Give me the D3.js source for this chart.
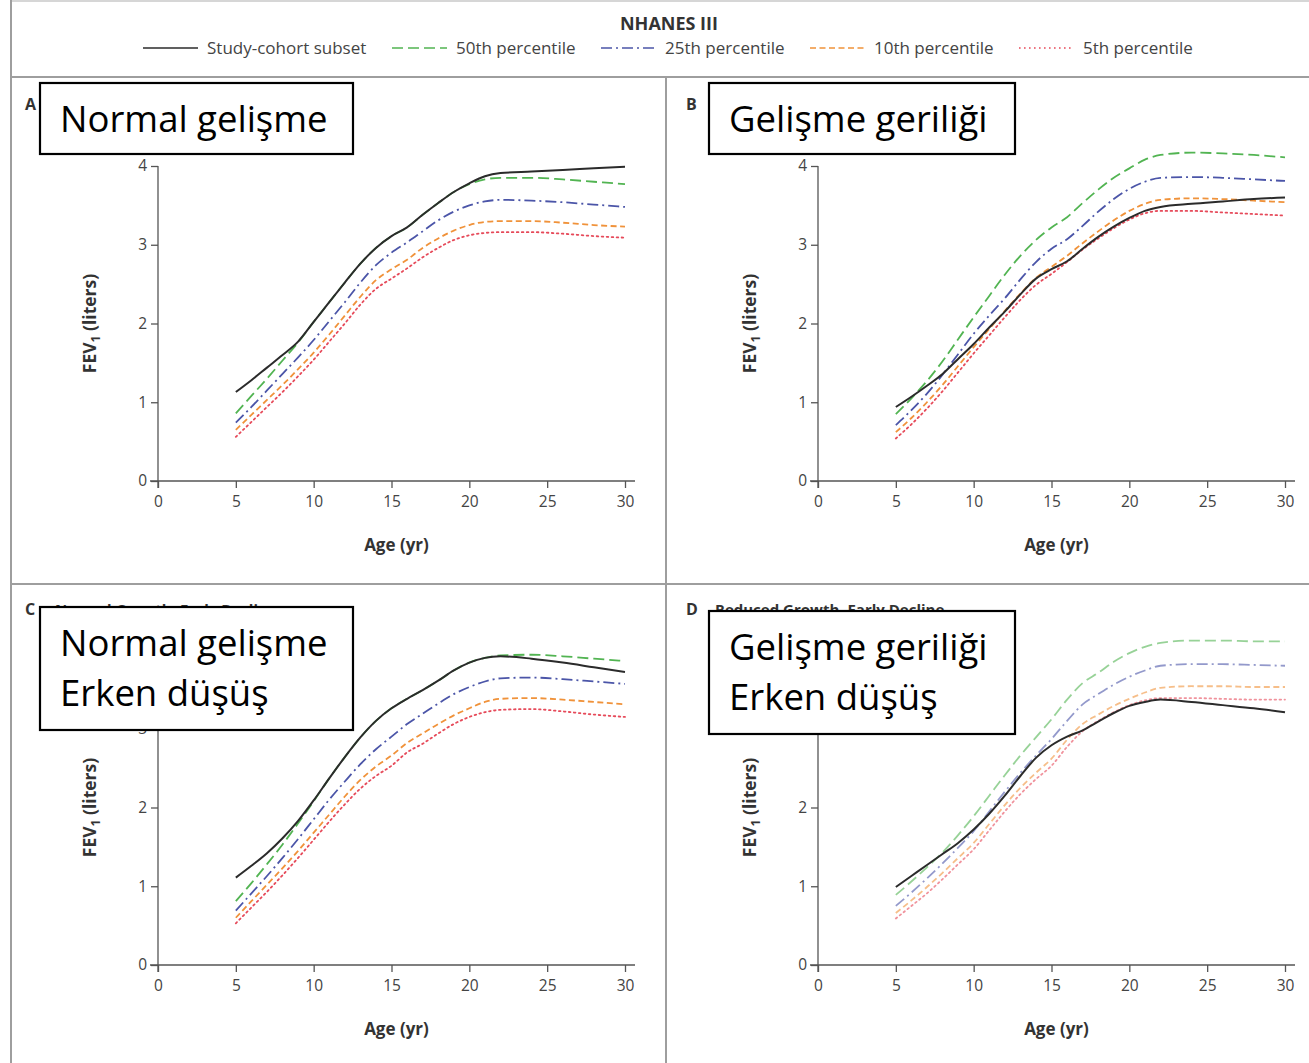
<!DOCTYPE html>
<html><head><meta charset="utf-8">
<script src="https://cdn.jsdelivr.net/npm/d3@7"></script>
<style>
html,body{margin:0;padding:0;background:#fff;}
svg{display:block;}
</style></head>
<body>
<svg id="chart" width="1309" height="1063"></svg>
<script>
// ---------------- DATA ----------------
const ages = [5, 6, 7, 8, 9, 10, 11, 12, 13, 14, 15, 16, 17, 18, 19, 20, 21, 22, 24, 26, 28, 30];
const xTicks = [0, 5, 10, 15, 20, 25, 30];
const yTicks = [0, 1, 2, 3, 4];
const seriesNames = ["Study-cohort subset", "50th percentile", "25th percentile", "10th percentile", "5th percentile"];
const legendTitle = "NHANES III";
const panelLetters = ["A", "B", "C", "D"];
const panelTitles = ["", "", "Normal Growth, Early Decline", "Reduced Growth, Early Decline"];
const boxTexts = [["Normal gelişme"], ["Gelişme geriliği"], ["Normal gelişme", "Erken düşüş"], ["Gelişme geriliği", "Erken düşüş"]];

// Panel A – Normal growth
const cohortA = [1.13, 1.28, 1.44, 1.60, 1.77, 2.02, 2.27, 2.52, 2.76, 2.96, 3.11, 3.22, 3.38, 3.53, 3.67, 3.78, 3.87, 3.91, 3.93, 3.95, 3.97, 3.99];
const p50A    = [0.86, 1.08, 1.30, 1.53, 1.76, 2.02, 2.27, 2.52, 2.76, 2.96, 3.11, 3.22, 3.38, 3.53, 3.67, 3.77, 3.83, 3.85, 3.85, 3.83, 3.80, 3.77];
const p25A    = [0.74, 0.94, 1.15, 1.36, 1.57, 1.79, 2.03, 2.27, 2.52, 2.74, 2.90, 3.03, 3.17, 3.31, 3.42, 3.50, 3.55, 3.57, 3.56, 3.54, 3.51, 3.48];
const p10A    = [0.65, 0.84, 1.03, 1.22, 1.42, 1.63, 1.86, 2.10, 2.34, 2.55, 2.69, 2.81, 2.96, 3.08, 3.18, 3.25, 3.29, 3.30, 3.30, 3.28, 3.25, 3.23];
const p5A     = [0.56, 0.75, 0.94, 1.13, 1.33, 1.54, 1.77, 2.00, 2.24, 2.44, 2.57, 2.70, 2.84, 2.96, 3.06, 3.12, 3.15, 3.16, 3.16, 3.14, 3.11, 3.09];
// Panel B – Reduced growth
const cohortB = [0.94, 1.07, 1.21, 1.36, 1.55, 1.74, 1.95, 2.15, 2.37, 2.57, 2.69, 2.79, 2.95, 3.10, 3.23, 3.34, 3.43, 3.48, 3.52, 3.55, 3.58, 3.60];
const p50B    = [0.85, 1.05, 1.27, 1.52, 1.80, 2.08, 2.35, 2.62, 2.86, 3.06, 3.22, 3.35, 3.53, 3.70, 3.85, 3.97, 4.08, 4.14, 4.17, 4.16, 4.14, 4.11];
const p25B    = [0.71, 0.90, 1.11, 1.35, 1.61, 1.87, 2.10, 2.32, 2.56, 2.78, 2.95, 3.07, 3.24, 3.42, 3.58, 3.71, 3.80, 3.85, 3.86, 3.85, 3.83, 3.81];
const p10B    = [0.62, 0.80, 1.00, 1.22, 1.46, 1.70, 1.93, 2.16, 2.38, 2.58, 2.72, 2.86, 3.02, 3.17, 3.31, 3.43, 3.52, 3.57, 3.59, 3.58, 3.56, 3.54];
const p5B     = [0.54, 0.72, 0.92, 1.14, 1.38, 1.62, 1.85, 2.08, 2.30, 2.49, 2.63, 2.78, 2.94, 3.08, 3.21, 3.32, 3.40, 3.43, 3.43, 3.41, 3.39, 3.37];
// Panel C – Normal growth, early decline
const cohortC = [1.11, 1.26, 1.42, 1.61, 1.83, 2.09, 2.37, 2.64, 2.89, 3.10, 3.26, 3.38, 3.49, 3.61, 3.74, 3.84, 3.90, 3.92, 3.89, 3.84, 3.78, 3.72];
const p50C    = [0.81, 1.04, 1.28, 1.53, 1.80, 2.08, 2.37, 2.64, 2.89, 3.10, 3.26, 3.38, 3.49, 3.61, 3.74, 3.84, 3.90, 3.93, 3.94, 3.92, 3.89, 3.86];
const p25C    = [0.69, 0.91, 1.13, 1.36, 1.60, 1.85, 2.10, 2.33, 2.55, 2.74, 2.90, 3.06, 3.19, 3.32, 3.44, 3.53, 3.60, 3.64, 3.65, 3.63, 3.60, 3.57];
const p10C    = [0.60, 0.81, 1.02, 1.23, 1.45, 1.68, 1.91, 2.14, 2.35, 2.52, 2.66, 2.82, 2.94, 3.06, 3.17, 3.26, 3.34, 3.38, 3.39, 3.37, 3.34, 3.31];
const p5C     = [0.53, 0.73, 0.93, 1.14, 1.36, 1.59, 1.82, 2.04, 2.24, 2.40, 2.53, 2.70, 2.81, 2.94, 3.06, 3.15, 3.21, 3.24, 3.25, 3.22, 3.18, 3.15];
// Panel D – Reduced growth, early decline
const cohortD = [0.99, 1.13, 1.27, 1.41, 1.55, 1.72, 1.92, 2.15, 2.40, 2.63, 2.79, 2.90, 2.98, 3.09, 3.20, 3.29, 3.34, 3.37, 3.34, 3.30, 3.26, 3.21];
const p50D    = [0.89, 1.06, 1.24, 1.43, 1.65, 1.89, 2.15, 2.41, 2.66, 2.89, 3.12, 3.37, 3.58, 3.71, 3.85, 3.96, 4.04, 4.09, 4.12, 4.12, 4.11, 4.11];
const p25D    = [0.75, 0.92, 1.10, 1.29, 1.49, 1.70, 1.95, 2.20, 2.44, 2.66, 2.87, 3.10, 3.31, 3.44, 3.56, 3.66, 3.74, 3.80, 3.82, 3.82, 3.81, 3.80];
const p10D    = [0.66, 0.82, 0.99, 1.17, 1.36, 1.55, 1.79, 2.03, 2.25, 2.44, 2.62, 2.86, 3.06, 3.18, 3.29, 3.38, 3.46, 3.52, 3.54, 3.54, 3.53, 3.53];
const p5D     = [0.59, 0.75, 0.91, 1.09, 1.28, 1.47, 1.71, 1.95, 2.17, 2.36, 2.53, 2.77, 2.97, 3.10, 3.21, 3.30, 3.36, 3.39, 3.39, 3.38, 3.37, 3.37];

// ---------------- STYLE / LAYOUT ----------------
const styles = [
  {color: "#2b2b2b", dash: null, width: 2},
  {color: "#52b452", dash: "11,5", width: 1.8},
  {color: "#4b55a8", dash: "11,4,2,4", width: 1.8},
  {color: "#f0923a", dash: "6,3.5", width: 1.8},
  {color: "#e64a5a", dash: "1.6,3.4", width: 1.8}
];
const panelData = [
  [cohortA, p50A, p25A, p10A, p5A],
  [cohortB, p50B, p25B, p10B, p5B],
  [cohortC, p50C, p25C, p10C, p5C],
  [cohortD, p50D, p25D, p10D, p5D]
];
const layout = [
  {ax: 158, xEnd: 625, y0: 481, y4: 166, letter: [25, 110], title: [55, 613], box: [40, 83, 313, 71], fade: 1},
  {ax: 818, xEnd: 1285, y0: 481, y4: 166, letter: [686, 110], title: [715, 613], box: [709, 83, 306, 71], fade: 1},
  {ax: 158, xEnd: 625, y0: 965, y4: 650, letter: [25, 615], title: [55, 615], box: [40, 607, 313, 123], fade: 1},
  {ax: 818, xEnd: 1285, y0: 965, y4: 650, letter: [686, 615], title: [715, 615], box: [709, 611, 306, 123], fade: 0.6}
];
const font = "'Open Sans', 'Noto Sans', sans-serif";

const svg = d3.select("#chart");

// ---------- frame ----------
const frame = svg.append("g").attr("stroke", "#9e9e9e").attr("stroke-width", 2);
frame.append("line").attr("x1", 11).attr("x2", 1309).attr("y1", 1).attr("y2", 1).attr("stroke", "#d6d6d6");
frame.append("line").attr("x1", 11).attr("x2", 11).attr("y1", 0).attr("y2", 1063);
frame.append("line").attr("x1", 11).attr("x2", 1309).attr("y1", 77).attr("y2", 77);
frame.append("line").attr("x1", 11).attr("x2", 1309).attr("y1", 584).attr("y2", 584);
frame.append("line").attr("x1", 666).attr("x2", 666).attr("y1", 77).attr("y2", 1063);

// ---------- legend ----------
svg.append("text").attr("x", 669).attr("y", 30).attr("text-anchor", "middle")
  .attr("font-family", font).attr("font-weight", "bold").attr("font-size", 18).attr("fill", "#333")
  .text(legendTitle);
const legendX = [143, 392, 601, 810, 1019];
seriesNames.forEach((name, i) => {
  const g = svg.append("g");
  g.append("line").attr("x1", legendX[i]).attr("x2", legendX[i] + 55).attr("y1", 48).attr("y2", 48)
    .attr("stroke", styles[i].color).attr("stroke-width", 1.6)
    .attr("stroke-dasharray", styles[i].dash);
  g.append("text").attr("x", legendX[i] + 64).attr("y", 54)
    .attr("font-family", font).attr("font-size", 17).attr("fill", "#444").text(name);
});

// ---------- panels ----------
layout.forEach((L, pi) => {
  const x = d3.scaleLinear().domain([0, 30]).range([L.ax, L.xEnd]);
  const y = d3.scaleLinear().domain([0, 4]).range([L.y0, L.y4]);
  const g = svg.append("g");
  const [bx, by, bw, bh] = L.box;

  // panel letter & title
  g.append("text").attr("x", L.letter[0]).attr("y", L.letter[1])
    .attr("font-family", font).attr("font-weight", "bold").attr("font-size", 16).attr("fill", "#333")
    .text(panelLetters[pi]);
  if (panelTitles[pi]) {
    g.append("text").attr("x", L.title[0]).attr("y", L.title[1])
      .attr("font-family", font).attr("font-weight", "bold").attr("font-size", 15).attr("fill", "#333")
      .text(panelTitles[pi]);
  }

  // axes
  const xAxis = g.append("g").attr("transform", `translate(0,${L.y0})`)
    .call(d3.axisBottom(x).tickValues(xTicks).tickSize(7).tickPadding(8).tickFormat(d3.format("d")));
  // tick labels that would sit entirely under the annotation box are not drawn
  const hidden = v => y(v) > by && y(v) + 5 <= by + bh && L.ax - 20 > bx;
  const yAxis = g.append("g").attr("transform", `translate(${L.ax},0)`)
    .call(d3.axisLeft(y).tickValues(yTicks).tickSize(7).tickPadding(4)
      .tickFormat(v => hidden(v) ? "" : d3.format("d")(v)));
  [xAxis, yAxis].forEach(a => {
    a.select(".domain").remove();
    a.selectAll("line").attr("stroke", "#555").attr("stroke-width", 1.3);
    a.selectAll("text").attr("font-family", font).attr("font-size", 15.5).attr("fill", "#444");
  });
  g.append("line").attr("x1", x(0) - 8).attr("x2", x(30) + 10).attr("y1", L.y0).attr("y2", L.y0)
    .attr("stroke", "#555").attr("stroke-width", 1.3);
  g.append("line").attr("x1", L.ax).attr("x2", L.ax).attr("y1", y(4)).attr("y2", L.y0 + 7)
    .attr("stroke", "#555").attr("stroke-width", 1.3);

  // axis titles
  g.append("text").attr("x", (x(0) + x(30)) / 2 + 5).attr("y", L.y0 + 70).attr("text-anchor", "middle")
    .attr("font-family", font).attr("font-weight", "bold").attr("font-size", 17).attr("fill", "#333")
    .text("Age (yr)");
  const yl = g.append("text").attr("transform", `translate(${L.ax - 62},${(y(0) + y(4)) / 2}) rotate(-90)`)
    .attr("text-anchor", "middle").attr("font-family", font).attr("font-weight", "bold")
    .attr("font-size", 17.5).attr("fill", "#333");
  yl.append("tspan").text("FEV");
  yl.append("tspan").attr("font-size", 12).attr("dy", 4).text("1");
  yl.append("tspan").attr("dy", -4).text(" (liters)");

  // lines (percentiles first, cohort on top)
  const line = d3.line().x((d, i) => x(ages[i])).y(d => y(d)).curve(d3.curveMonotoneX);
  [4, 3, 2, 1, 0].forEach(si => {
    g.append("path").datum(panelData[pi][si]).attr("d", line)
      .attr("fill", "none").attr("stroke", styles[si].color)
      .attr("stroke-width", styles[si].width)
      .attr("stroke-dasharray", styles[si].dash)
      .attr("stroke-opacity", si === 0 ? 1 : L.fade)
      .attr("stroke-linecap", si === 4 ? "round" : "butt");
  });

  // overlay annotation box
  g.append("rect").attr("x", bx).attr("y", by).attr("width", bw).attr("height", bh)
    .attr("fill", "#fff").attr("stroke", "#000").attr("stroke-width", 2.2);
  boxTexts[pi].forEach((t, li) => {
    g.append("text").attr("x", bx + 20).attr("y", by + 49 + li * 50)
      .attr("font-family", font).attr("font-size", 36.5).attr("fill", "#000").text(t);
  });
});
</script>
</body></html>
